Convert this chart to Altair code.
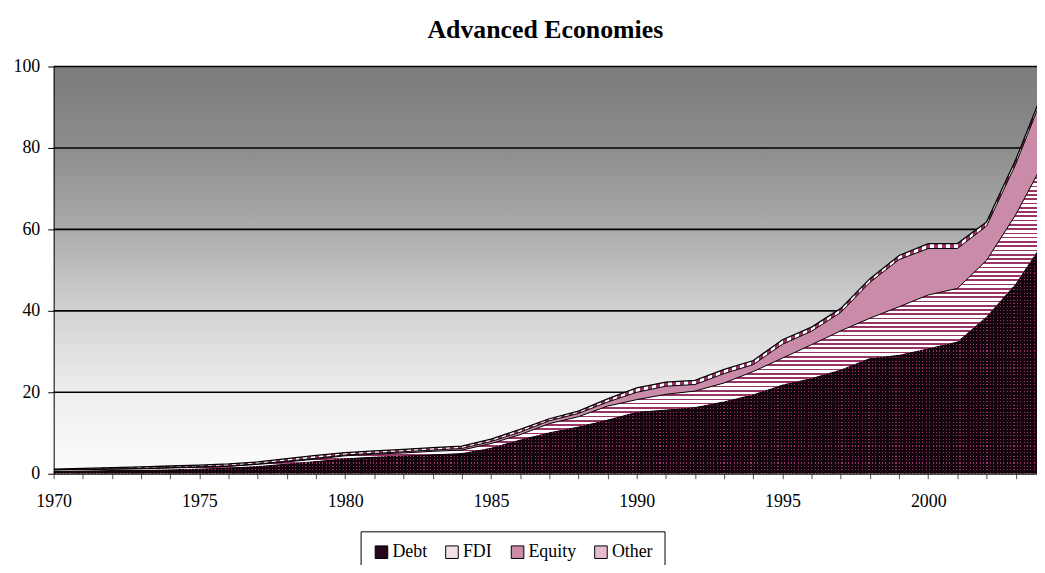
import altair as alt
import pandas as pd

# ---------------- data ----------------
years = list(range(1970, 2005))
debt = [0.7, 0.8, 0.9, 1.0, 1.1, 1.3, 1.5, 1.9, 2.5, 3.1,
        3.8, 4.2, 4.5, 4.8, 5.1, 6.4, 8.4, 10.2, 11.6, 13.3,
        15.2, 15.8, 16.4, 17.8, 19.5, 21.9, 23.5, 25.6, 28.4, 29.2,
        30.8, 32.5, 38.6, 46.7, 57.5]
fdi = [0.2, 0.2, 0.2, 0.2, 0.3, 0.3, 0.3, 0.4, 0.4, 0.5,
       0.6, 0.6, 0.6, 0.7, 0.7, 1.0, 1.2, 2.1, 2.4, 3.3,
       3.0, 3.7, 3.9, 4.5, 5.6, 6.5, 8.2, 9.5, 9.8, 11.8,
       13.1, 13.0, 13.8, 16.9, 19.5]
equity = [0.1, 0.1, 0.1, 0.1, 0.1, 0.1, 0.1, 0.1, 0.2, 0.2,
          0.2, 0.2, 0.3, 0.3, 0.4, 0.5, 0.6, 0.7, 0.8, 1.0,
          1.8, 2.0, 1.6, 2.3, 1.7, 3.4, 3.3, 4.5, 8.8, 11.6,
          11.4, 9.8, 8.4, 12.4, 17.0]
other = [0.1, 0.2, 0.3, 0.4, 0.4, 0.4, 0.5, 0.5, 0.6, 0.7,
         0.6, 0.6, 0.6, 0.6, 0.6, 0.6, 0.7, 0.5, 0.6, 0.8,
         1.1, 1.0, 1.0, 1.0, 1.0, 1.1, 1.0, 1.0, 0.9, 1.0,
         1.2, 1.2, 1.0, 1.1, 1.0]
series = ["Debt", "FDI", "Equity", "Other"]
y_ticks = [0, 20, 40, 60, 80, 100]
grid_values = [20, 40, 60, 80, 100]
x_tick_years = list(range(1970, 2004))

df = pd.DataFrame({"year": years, "debt": debt, "fdi": fdi,
                   "equity": equity, "other": other})
df["b0"] = 0.0
df["t_debt"] = df["debt"]
df["t_fdi"] = df["t_debt"] + df["fdi"]
df["t_eq"] = df["t_fdi"] + df["equity"]
df["t_oth"] = df["t_eq"] + df["other"]

# ---------------- styling ----------------
W, H = 990, 410
PX_PER_YEAR = 29.35
X_MIN = 1970
X_MAX = 1970 + W / PX_PER_YEAR
PPY = H / 100.0
FONT = "Liberation Serif"
PLUM = "#993366"
DARK = "#14040d"
EQUITY = "#c98ba8"
CLEAR = "transparent"
legend_colors = ["#24091a", "#f3e1e9", EQUITY, "#e6bdd0"]


def stripes(n, on, off, duty):
    stops = []
    for i in range(n):
        a = i / n
        b = (i + duty) / n
        c = (i + 1) / n
        stops += [{"offset": round(a, 5), "color": on},
                  {"offset": round(b, 5), "color": on},
                  {"offset": round(b, 5), "color": off},
                  {"offset": round(c, 5), "color": off}]
    return stops


def hgrad(stops):
    return {"gradient": "linear", "x1": 0, "y1": 0, "x2": 0, "y2": 1, "stops": stops}


def vgrad(stops):
    return {"gradient": "linear", "x1": 0, "y1": 0, "x2": 1, "y2": 0, "stops": stops}


bbox_w = (years[-1] - years[0]) * PX_PER_YEAR


def h_count(lo_col, hi_col, period):
    h = (df[hi_col].max() - df[lo_col].min()) * PPY
    return max(1, int(round(h / period)))


def v_count(period):
    return max(1, int(round(bbox_w / period)))


x_enc = alt.X("year:Q",
              scale=alt.Scale(domain=[X_MIN, X_MAX], nice=False, zero=False),
              axis=alt.Axis(values=x_tick_years, title=None,
                            labelExpr="datum.value % 5 == 0 ? '' + datum.value : ''",
                            labelOverlap=False, labelFlush=False,
                            tickSize=5, tickColor="#555555", domainColor="black",
                            labelPadding=14, labelFont=FONT, labelFontSize=18,
                            labelColor="black", grid=False, zindex=1))
y_scale = alt.Scale(domain=[0, 100], nice=False, zero=True)
y_axis = alt.Axis(values=y_ticks, title=None, grid=False, tickSize=6,
                  tickColor="black", domainColor="black", labelPadding=8,
                  labelFont=FONT, labelFontSize=18, labelColor="black", zindex=1)

base = alt.Chart(df)


def area(lo, hi, fill):
    return base.mark_area(clip=True, color=fill, interpolate="linear").encode(
        x=x_enc,
        y=alt.Y(f"{lo}:Q", scale=y_scale, axis=y_axis),
        y2=alt.Y2(f"{hi}:Q"),
    )


def line(col, width):
    return base.mark_line(clip=True, color="black", strokeWidth=width).encode(
        x=x_enc, y=alt.Y(f"{col}:Q", scale=y_scale, axis=y_axis))


# background gradient panel
bg_grad = hgrad([{"offset": 0, "color": "#7b7b7b"},
                 {"offset": 0.2, "color": "#8d8d8d"},
                 {"offset": 0.4, "color": "#ababab"},
                 {"offset": 0.6, "color": "#d2d2d2"},
                 {"offset": 0.8, "color": "#eeeeee"},
                 {"offset": 1, "color": "#fcfcfc"}])
background = alt.Chart(alt.Data(values=[{"k": 1}])).mark_rect(color=bg_grad).encode(
    x=alt.value(0), x2=alt.value("width"), y=alt.value(0), y2=alt.value("height"))

grid = alt.Chart(pd.DataFrame({"v": grid_values})).mark_rule(
    color="black", strokeWidth=1.6).encode(y=alt.Y("v:Q", scale=y_scale, axis=y_axis))

# Debt: dark with plum dots
debt_base = area("b0", "t_debt", PLUM)
debt_h = area("b0", "t_debt", hgrad(stripes(h_count("b0", "t_debt", 3.4), DARK, CLEAR, 0.68)))
debt_v = area("b0", "t_debt", vgrad(stripes(v_count(3.4), DARK, CLEAR, 0.68)))
# FDI: white with horizontal plum stripes
fdi_a = area("t_debt", "t_fdi", hgrad(stripes(h_count("t_debt", "t_fdi", 4.3), PLUM, "#ffffff", 0.4)))
# Equity: plum / white checker (blended tone)
eq_a = area("t_fdi", "t_eq", EQUITY)
# Other
oth_a = area("t_eq", "t_oth", vgrad(stripes(v_count(8.0), PLUM, "#ffffff", 0.5)))

lines = line("t_fdi", 1.0) + line("t_eq", 1.0) + line("t_oth", 1.3)

legend_layer = base.transform_filter("false").mark_square().encode(
    color=alt.Color("series:N",
                    scale=alt.Scale(domain=series, range=legend_colors),
                    legend=alt.Legend(orient="none", legendX=309, legendY=468,
                                      direction="horizontal", title=None,
                                      symbolType="square", symbolSize=160,
                                      symbolStrokeColor="black", symbolStrokeWidth=1,
                                      symbolOpacity=1,
                                      labelFont=FONT, labelFontSize=18,
                                      labelColor="black", labelOffset=2,
                                      columnPadding=16, padding=12,
                                      strokeColor="black", fillColor="white")))

chart = alt.layer(
    background, grid, debt_base, debt_h, debt_v, fdi_a,
    eq_a, oth_a, lines, legend_layer
).properties(
    width=W, height=H,
    title=alt.TitleParams("Advanced Economies", font=FONT, fontSize=26,
                          fontWeight="bold", color="black", anchor="middle",
                          frame="group", offset=15),
    padding={"left": 46, "top": 57, "right": 0, "bottom": 90},
    autosize=alt.AutoSizeParams(type="none"),
).configure(font=FONT, background="white").configure_view(strokeOpacity=0)

chart.save("out.html", embed_options={"renderer": "svg", "actions": False})
